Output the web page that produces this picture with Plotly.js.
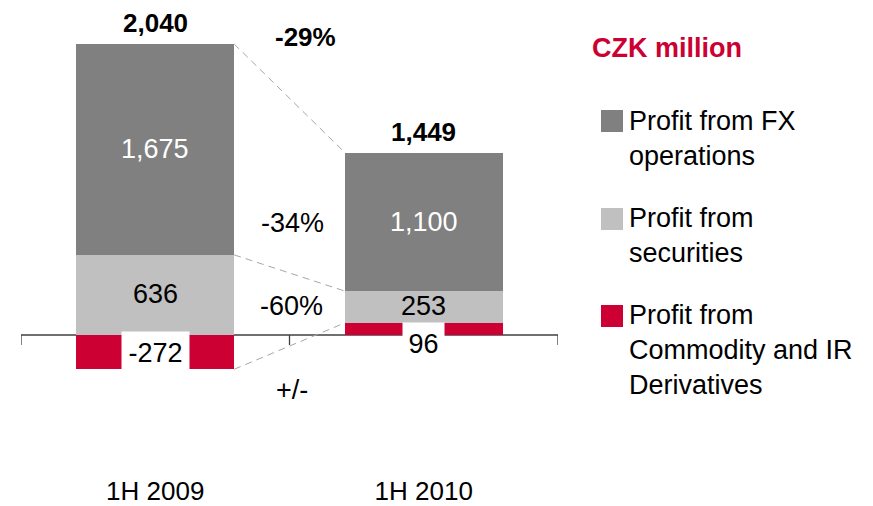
<!DOCTYPE html>
<html>
<head>
<meta charset="utf-8">
<script src="https://cdn.plot.ly/plotly-3.0.1.min.js"></script>
<style>html,body{margin:0;padding:0;background:#fff;}#chart{width:873px;height:506px;}</style>
</head>
<body>
<div id="chart"></div>
<script>
// ---- data ----
const categories = ['1H 2009', '1H 2010'];
const derivativesProfit = [-272, 96];
const securitiesProfit = [636, 253];
const fxProfit = [1675, 1100];
const totals = [2040, 1449];
const changeLabels = ['-29%', '-34%', '-60%', '+/-'];
const seriesNames = ['Profit from FX<br>operations', 'Profit from<br>securities', 'Profit from<br>Commodity and IR<br>Derivatives'];
const unitLabel = 'CZK million';

// ---- style ----
const FONT = '"Liberation Sans", Arial, Helvetica, sans-serif';
const C_FX = '#808080', C_SEC = '#C0C0C0', C_DER = '#CC0033';
const W = 873, H = 506;
const M = {l: 21, r: 315, t: 10, b: 33};
const Y_RANGE = [-1096, 2581];
const X_RANGE = [-0.5, 1.5];
const BAR_W = 0.588;
const plotW = W - M.l - M.r, plotH = H - M.t - M.b;
const pxPerUnit = plotH / (Y_RANGE[1] - Y_RANGE[0]);
const pxPerCat = plotW / (X_RANGE[1] - X_RANGE[0]);
const yFromPx = py => Y_RANGE[1] - (py - M.t) / pxPerUnit;
const xFromPx = px => X_RANGE[0] + (px - M.l) / pxPerCat;
const paperX = px => (px - M.l) / plotW;
const paperY = py => 1 - (py - M.t) / plotH;
const fmt = v => v.toLocaleString('en-US');

// stacking order (bottom to top): derivatives, securities, FX
const series = [
  {name: seriesNames[2], values: derivativesProfit, color: C_DER},
  {name: seriesNames[1], values: securitiesProfit, color: C_SEC},
  {name: seriesNames[0], values: fxProfit, color: C_FX}
];
// compute segment bases / ends as Plotly 'relative' stacking does
const pos = categories.map(() => 0), neg = categories.map(() => 0);
series.forEach(s => {
  s.base = []; s.end = [];
  s.values.forEach((v, i) => {
    if (v >= 0) { s.base.push(pos[i]); pos[i] += v; }
    else { s.base.push(neg[i]); neg[i] += v; }
    s.end.push(s.base[i] + v);
  });
});

const traces = series.map(s => ({
  type: 'bar', x: categories, y: s.values, name: s.name,
  marker: {color: s.color, line: {width: 0}}, width: BAR_W,
  hoverinfo: 'x+y', showlegend: false
}));

const shapes = [];
const annotations = [];

// axis line at zero and tick marks
shapes.push({type: 'line', xref: 'x', yref: 'y', x0: X_RANGE[0], x1: X_RANGE[1], y0: 0, y1: 0,
  line: {color: '#404040', width: 1.3}, layer: 'below'});
[X_RANGE[0], 0.5, X_RANGE[1]].forEach(xv => {
  shapes.push({type: 'line', xref: 'x', yref: 'y', ysizemode: 'pixel', yanchor: 0,
    x0: xv, x1: xv, y0: 0, y1: -10, line: {color: '#404040', width: 1.3}, layer: 'below'});
});

// dashed connector lines between segment ends
const half = BAR_W / 2;
series.forEach(s => {
  shapes.push({type: 'line', xref: 'x', yref: 'y', x0: 0 + half, x1: 1 - half,
    y0: s.end[0], y1: s.end[1], line: {color: '#A6A6A6', width: 1, dash: '7px,5px'}, layer: 'below'});
});

// totals
categories.forEach((c, i) => {
  annotations.push({x: i, y: pos[i], xref: 'x', yref: 'y', text: '<b>' + fmt(totals[i]) + '</b>',
    showarrow: false, xanchor: 'center', yanchor: 'middle', yshift: 21, font: {family: FONT, size: 26, color: '#000'}});
});
// inside labels for FX and securities
categories.forEach((c, i) => {
  annotations.push({x: i, y: series[2].base[i] + fxProfit[i] / 2, xref: 'x', yref: 'y',
    text: fmt(fxProfit[i]), showarrow: false, xanchor: 'center', yanchor: 'middle',
    font: {family: FONT, size: 27, color: '#FFFFFF'}});
  annotations.push({x: i, y: series[1].base[i] + securitiesProfit[i] / 2, xref: 'x', yref: 'y',
    text: fmt(securitiesProfit[i]), showarrow: false, xanchor: 'center', yanchor: 'middle', yshift: 1,
    font: {family: FONT, size: 27, color: '#000'}});
});
// derivative labels in white boxes
const derivLabelPx = [352, 343];
categories.forEach((c, i) => {
  annotations.push({x: i, y: yFromPx(derivLabelPx[i]), xref: 'x', yref: 'y',
    text: fmt(derivativesProfit[i]), showarrow: false, xanchor: 'center', yanchor: 'middle',
    bgcolor: '#FFFFFF', borderpad: 3, width: i === 0 ? 61 : 35, height: 35,
    font: {family: FONT, size: 27, color: '#000'}});
});
// change labels
const changePx = [[305, 37, true], [292, 223, false], [291, 306, false], [292, 390, false]];
changeLabels.forEach((t, k) => {
  const p = changePx[k];
  annotations.push({x: xFromPx(p[0]), y: yFromPx(p[1]), xref: 'x', yref: 'y',
    text: p[2] ? '<b>' + t + '</b>' : t, showarrow: false, xanchor: 'center', yanchor: 'middle',
    font: {family: FONT, size: p[2] ? 26 : 27, color: '#000'}});
});

// unit label
annotations.push({x: paperX(667), y: paperY(48), xref: 'paper', yref: 'paper', text: '<b>' + unitLabel + '</b>',
  showarrow: false, xanchor: 'center', yanchor: 'middle', font: {family: FONT, size: 27, color: C_DER}});

// custom legend: squares + text
const legendItems = [
  {name: seriesNames[0], color: C_FX, sq: 110, mid: 138},
  {name: seriesNames[1], color: C_SEC, sq: 208, mid: 235},
  {name: seriesNames[2], color: C_DER, sq: 305, mid: 350}
];
legendItems.forEach(it => {
  shapes.push({type: 'rect', xref: 'paper', yref: 'paper', x0: paperX(601), x1: paperX(623),
    y0: paperY(it.sq + 22), y1: paperY(it.sq), fillcolor: it.color, line: {width: 0}});
  annotations.push({x: paperX(627), y: paperY(it.mid), xref: 'paper', yref: 'paper', text: it.name,
    showarrow: false, xanchor: 'left', yanchor: 'middle', align: 'left',
    font: {family: FONT, size: 27, color: '#000'}});
});

const layout = {
  width: W, height: H, margin: M, barmode: 'relative', bargap: 0,
  paper_bgcolor: '#FFFFFF', plot_bgcolor: '#FFFFFF', showlegend: false,
  font: {family: FONT, color: '#000'},
  xaxis: {type: 'category', range: X_RANGE, showgrid: false, zeroline: false, showline: false,
    ticks: '', tickfont: {family: FONT, size: 26, color: '#000'}, fixedrange: true},
  yaxis: {range: Y_RANGE, visible: false, showgrid: false, zeroline: false, fixedrange: true},
  shapes: shapes, annotations: annotations
};

Plotly.newPlot('chart', traces, layout, {displayModeBar: false, staticPlot: true});
</script>
</body>
</html>
